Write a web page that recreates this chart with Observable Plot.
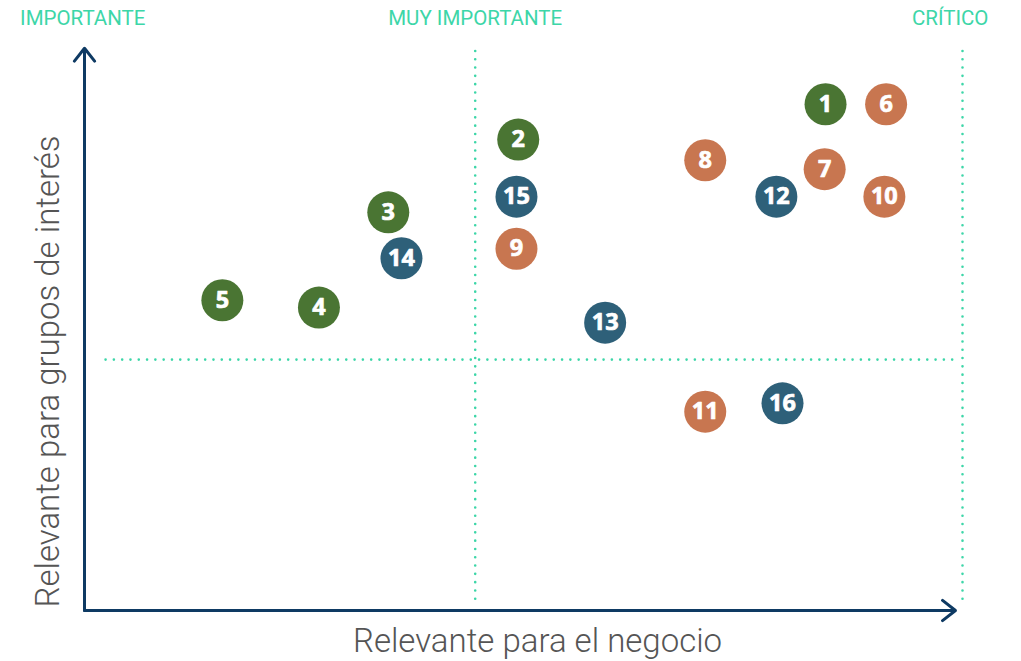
<!DOCTYPE html>
<html>
<head>
<meta charset="utf-8">
<script src="https://cdn.jsdelivr.net/npm/d3@7"></script>
<script src="https://cdn.jsdelivr.net/npm/@observablehq/plot@0.6"></script>
<style>
  html, body { margin: 0; padding: 0; background: #fff; }
  #chart svg { display: block; }
</style>
</head>
<body>
<div id="chart"></div>
<script>
// Issue ids, positions (business relevance, stakeholder relevance) and group
const ids    = ["1","6","2","8","7","15","12","10","3","9","14","5","4","13","11","16"];
const xVals  = [8.44, 9.13, 4.94, 7.07, 8.43, 4.92, 7.88, 9.11, 3.46, 4.92, 3.61, 1.57, 2.67, 5.93, 7.07, 7.95];
const yVals  = [9.04, 9.04, 8.41, 8.04, 7.88, 7.39, 7.39, 7.39, 7.11, 6.46, 6.29, 5.54, 5.41, 5.14, 3.55, 3.70];
const groups = ["A","B","A","B","B","C","C","B","A","B","C","A","A","C","B","C"];

const groupNames  = ["A","B","C"];
const groupColors = ["#4a7533","#c87650","#2e6079"];

// Category (zone) labels along the top
const zoneLabels = ["IMPORTANTE","MUY IMPORTANTE","CRÍTICO"];
const zoneX      = [-0.02, 4.45, 9.86];
const zoneY      = 10.58;

// Zone dividers
const dividerX     = [4.45, 10];
const dividerYSpan = [0.21, 10.07];
const dividerY     = 4.48;
const dividerXSpan = [0.24, 9.92];

// Axis extents
const xAxisEnd = 9.92;
const yAxisEnd = 10.04;

const xTitle = "Relevante para el negocio";
const yTitle = "Relevante para grupos de interés";

const points = ids.map((id, i) => ({id, x: xVals[i], y: yVals[i], g: groups[i]}));
const zones = zoneLabels.map((t, i) => ({t, x: zoneX[i], y: zoneY}));
const vDividers = dividerX.map(x => ({x1: x, x2: x, y1: dividerYSpan[0], y2: dividerYSpan[1]}));
const hDividers = [{x1: dividerXSpan[0], x2: dividerXSpan[1], y1: dividerY, y2: dividerY}];
const axes = [{x1: 0, y1: 0, x2: xAxisEnd, y2: 0}, {x1: 0, y1: 0, x2: 0, y2: yAxisEnd}];

const teal = "#3dd6a8";
const navy = "#0e3a63";
const font = "Roboto, 'Liberation Sans', sans-serif";

const chart = Plot.plot({
  width: 1021,
  height: 661,
  marginLeft: 84,
  marginRight: 59,
  marginTop: 50,
  marginBottom: 51,
  x: {domain: [0, 10], axis: null},
  y: {domain: [0, 10], axis: null},
  color: {domain: groupNames, range: groupColors},
  style: {fontFamily: font, background: "#fff"},
  marks: [
    Plot.link([...vDividers, ...hDividers], {
      x1: "x1", y1: "y1", x2: "x2", y2: "y2",
      stroke: teal, strokeWidth: 2.6, strokeDasharray: "0,8.3", strokeLinecap: "round"
    }),
    Plot.arrow(axes, {
      x1: "x1", y1: "y1", x2: "x2", y2: "y2",
      stroke: navy, strokeWidth: 3, headLength: 8.2, headAngle: 76, insetStart: 0, insetEnd: 0
    }),
    Plot.text(zones, {
      x: "x", y: "y", text: "t", fill: teal, fontSize: 20.5, textAnchor: "middle"
    }),
    Plot.dot(points, {x: "x", y: "y", r: 21, fill: "g", stroke: null}),
    Plot.text(points, {
      x: "x", y: "y", text: "id", fill: "white", stroke: "white", strokeWidth: 0.7,
      fontSize: 23.5, fontWeight: "bold",
      fontFamily: "'Open Sans', 'Liberation Sans', sans-serif"
    }),
    Plot.text([xTitle], {
      text: d => d, frameAnchor: "bottom", dy: 31, dx: 14, lineAnchor: "middle", textAnchor: "middle",
      fontSize: 33, fontWeight: 300, fill: "#555"
    }),
    Plot.text([yTitle], {
      text: d => d, frameAnchor: "left", dx: -36, dy: 41, rotate: -90, lineAnchor: "middle", textAnchor: "middle",
      fontSize: 33, fontWeight: 300, fill: "#555"
    })
  ]
});
document.getElementById("chart").appendChild(chart);
</script>
</body>
</html>
